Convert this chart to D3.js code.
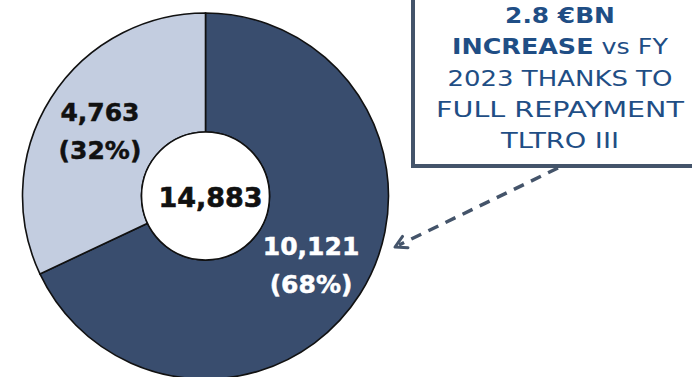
<!DOCTYPE html>
<html>
<head>
<meta charset="utf-8">
<script src="https://cdn.jsdelivr.net/npm/d3@7"></script>
<style>
  html, body { margin: 0; padding: 0; background: #fff; }
  svg { display: block; }
</style>
</head>
<body>
<div id="chart"></div>
<script>
// Liquidity breakdown (€M)
const categories = ["Dark share", "Light share"];
const values = [10121, 4763];
const totalLabel = "14,883";
const sliceColors = ["#394d6e", "#c3cde0"];
const labelColors = ["#ffffff", "#111111"];

// Callout text: each line is a list of [text, bold] runs
const calloutLines = [
  [["2.8 €BN", true]],
  [["INCREASE", true], [" vs FY", false]],
  [["2023 THANKS TO", false]],
  [["FULL REPAYMENT", false]],
  [["TLTRO III", false]]
];
const calloutWidths = [110, 216, 225, 248, 118];

const W = 692, H = 377;
const cx = 205.5, cy = 196;
const outerR = 183, innerR = 64, labelR = 125;

const svg = d3.select("#chart").append("svg")
  .attr("width", W).attr("height", H);

const total = d3.sum(values);
const pie = d3.pie().sort(null).value(d => d)(values);
const arc = d3.arc().innerRadius(innerR).outerRadius(outerR);
const labelArc = d3.arc().innerRadius(labelR).outerRadius(labelR);

const g = svg.append("g").attr("transform", `translate(${cx},${cy})`);

g.selectAll("path.slice").data(pie).join("path")
  .attr("class", "slice")
  .attr("d", arc)
  .attr("fill", (d, i) => sliceColors[i])
  .attr("stroke", "#111")
  .attr("stroke-width", 1.6);

// white hole
g.append("circle").attr("r", innerR)
  .attr("fill", "#fff").attr("stroke", "#111").attr("stroke-width", 1.6);

g.append("text")
  .attr("x", 5).attr("y", 11)
  .attr("text-anchor", "middle")
  .attr("font-family", "DejaVu Sans, sans-serif")
  .attr("font-weight", "bold")
  .attr("font-size", 27)
  .attr("fill", "#111")
  .attr("stroke", "#111").attr("stroke-width", 0.6)
  .text(totalLabel);

const fmt = d3.format(",");
const labels = g.selectAll("text.val").data(pie).join("text")
  .attr("class", "val")
  .attr("text-anchor", "middle")
  .attr("font-family", "DejaVu Sans, sans-serif")
  .attr("font-weight", "bold")
  .attr("font-size", 25)
  .attr("fill", (d, i) => labelColors[i])
  .attr("stroke", (d, i) => labelColors[i]).attr("stroke-width", 0.5)
  .attr("transform", d => { const c = labelArc.centroid(d); return `translate(${c[0]},${c[1]})`; });
labels.append("tspan").attr("x", 0).attr("y", -8).text(d => fmt(d.value));
labels.append("tspan").attr("x", 0).attr("y", 30)
  .text(d => `(${Math.round(d.value / total * 100)}%)`);

// Callout box
svg.append("rect")
  .attr("x", 413).attr("y", -10)
  .attr("width", 300).attr("height", 176)
  .attr("fill", "#fff")
  .attr("stroke", "#44546a").attr("stroke-width", 4);

const boxCx = 560;
calloutLines.forEach((runs, i) => {
  const lg = svg.append("g");
  const t = lg.append("text")
    .attr("text-anchor", "middle")
    .attr("font-family", "DejaVu Sans, sans-serif")
    .attr("font-size", 20.5)
    .attr("fill", "#1f4e85");
  runs.forEach(([s, b]) => t.append("tspan").attr("font-weight", b ? "bold" : "normal").text(s));
  const w = t.node().getComputedTextLength();
  lg.attr("transform", `translate(${boxCx},${23 + i * 31.3}) scale(${calloutWidths[i] / w},1)`);
});

// Dashed arrow from callout to the dark slice
const x1 = 558, y1 = 168, x2 = 395, y2 = 247;
svg.append("line")
  .attr("x1", x1).attr("y1", y1).attr("x2", x2 + 4).attr("y2", y2 - 2)
  .attr("stroke", "#44546a").attr("stroke-width", 3.5)
  .attr("stroke-dasharray", "11,8");
const ang = Math.atan2(y1 - y2, x1 - x2);
const ah = 13, spread = 0.5;
svg.append("path")
  .attr("d", `M${x2 + ah * Math.cos(ang - spread)},${y2 + ah * Math.sin(ang - spread)} L${x2},${y2} L${x2 + ah * Math.cos(ang + spread)},${y2 + ah * Math.sin(ang + spread)}`)
  .attr("fill", "none")
  .attr("stroke", "#44546a").attr("stroke-width", 3)
  .attr("stroke-linecap", "round").attr("stroke-linejoin", "round");
</script>
</body>
</html>
